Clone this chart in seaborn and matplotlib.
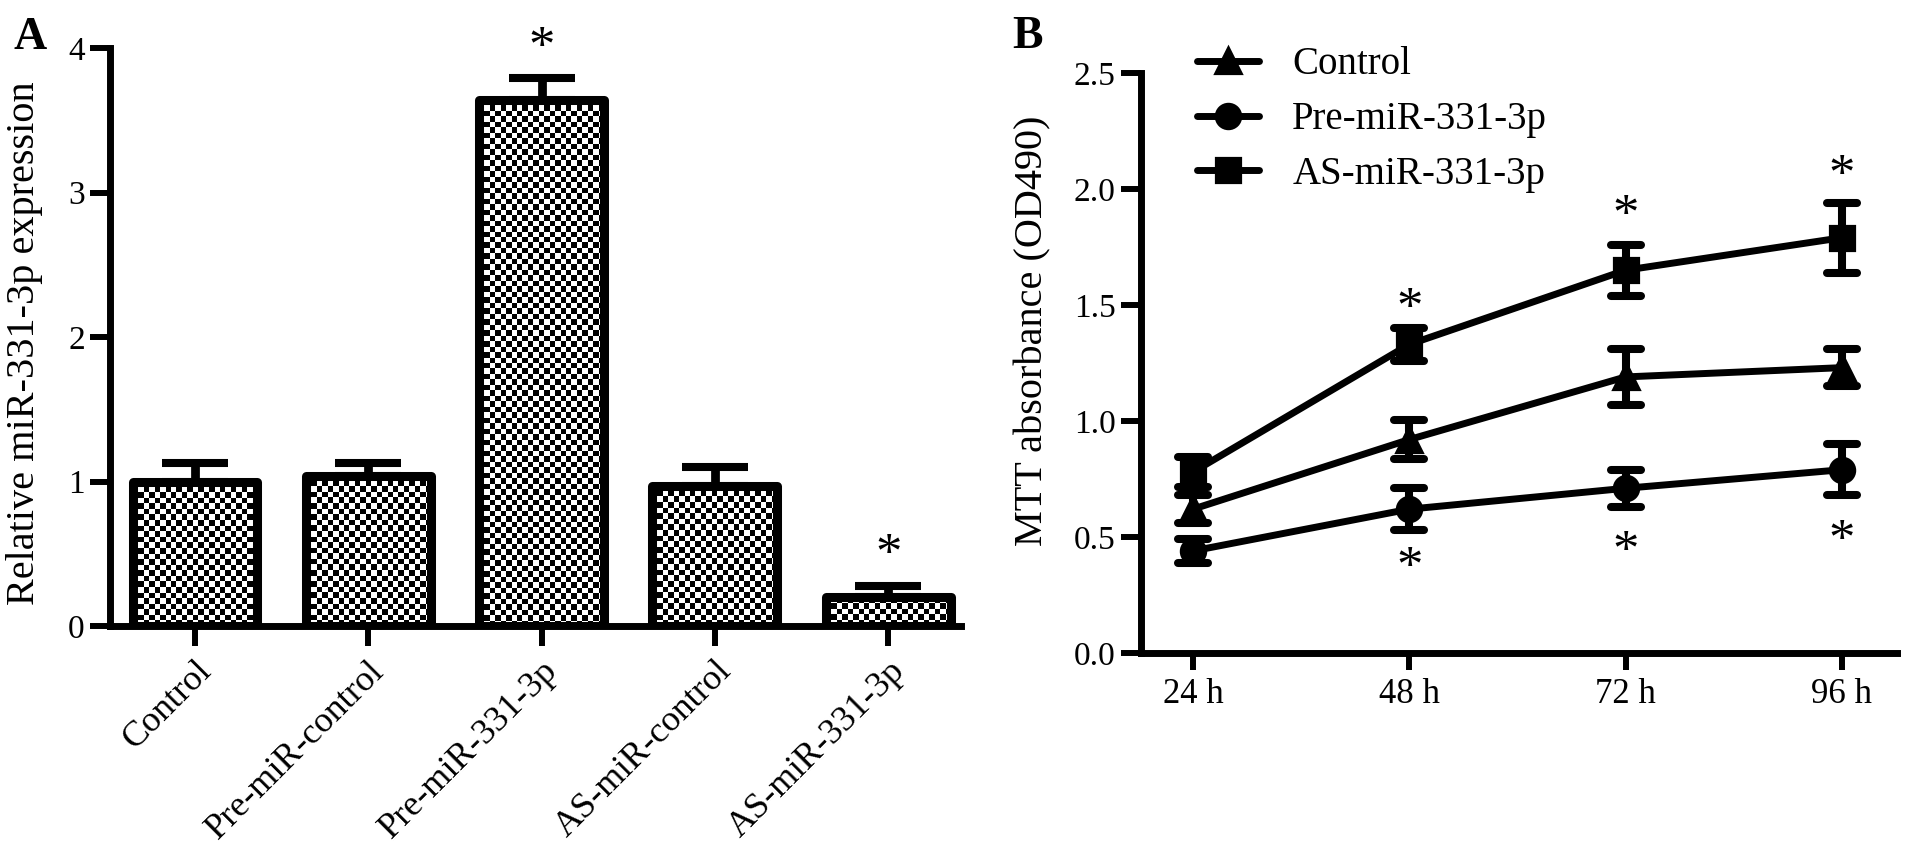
import numpy as np
import pandas as pd
import matplotlib
matplotlib.use("Agg")
import matplotlib.pyplot as plt
from matplotlib.markers import MarkerStyle
import seaborn as sns

# Panel A: relative miR-331-3p expression (mean, upper SE)
groups_a = ["Control", "Pre-miR-control", "Pre-miR-331-3p", "AS-miR-control", "AS-miR-331-3p"]
expr_mean = [1.00, 1.04, 3.64, 0.97, 0.20]
expr_err = [0.13, 0.09, 0.15, 0.13, 0.08]
star_a_idx = [2, 4]
star_a_y = [4.04, 0.53]

# Panel B: MTT absorbance over time
times = ["24 h", "48 h", "72 h", "96 h"]
groups_b = ["Control", "Pre-miR-331-3p", "AS-miR-331-3p"]
od_control = [0.62, 0.92, 1.19, 1.23]
od_pre = [0.44, 0.62, 0.71, 0.79]
od_as = [0.78, 1.33, 1.65, 1.79]
err_control = [0.06, 0.085, 0.12, 0.08]
err_pre = [0.05, 0.09, 0.08, 0.11]
err_as = [0.065, 0.07, 0.11, 0.15]
star_b_idx = [1, 2, 3, 1, 2, 3]
star_b_y = [1.51, 1.91, 2.08, 0.39, 0.46, 0.51]

sns.set_style("ticks")
plt.rcParams["font.family"] = ["Liberation Serif", "DejaVu Serif"]
plt.rcParams["axes.linewidth"] = 5
plt.rcParams["axes.edgecolor"] = "black"
plt.rcParams["xtick.color"] = "black"
plt.rcParams["ytick.color"] = "black"
plt.rcParams["text.color"] = "black"
plt.rcParams["axes.labelcolor"] = "black"
plt.rcParams["xtick.major.width"] = 4.3
plt.rcParams["ytick.major.width"] = 4.3
plt.rcParams["xtick.major.size"] = 14.5
plt.rcParams["ytick.major.size"] = 14.5

fig = plt.figure(figsize=(19.13, 8.61), dpi=100)
W, H = 1913, 861

# ---------------- Panel A ----------------
ax1 = fig.add_axes([110 / W, (H - 626) / H, 851 / W, 578 / H])
df_a = pd.DataFrame({"group": groups_a, "expr": expr_mean})
sns.barplot(data=df_a, x="group", y="expr", order=groups_a, color="white",
            width=0.72, errorbar=None, ax=ax1)
ax1.set_xlim(-0.49, 4.42)
ax1.set_ylim(0, 4)

ax1.errorbar(np.arange(len(groups_a)), expr_mean,
             yerr=[np.zeros(len(expr_err)), expr_err], fmt="none",
             ecolor="black", elinewidth=6.3, capsize=23.5, capthick=5.8,
             zorder=3)

# checkerboard fill inside each bar
sq = 5.5
for bar in ax1.patches:
    bar.set_facecolor("none")
    bar.set_edgecolor("black")
    bar.set_linewidth(6.5)
    bar.set_joinstyle("round")
    bar.set_zorder(2)
    x0, y0 = bar.get_x(), bar.get_y()
    w, h = bar.get_width(), bar.get_height()
    (px0, py0), (px1, py1) = ax1.transData.transform([(x0, y0), (x0 + w, y0 + h)])
    nx = max(1, int(round((px1 - px0) / sq)))
    ny = max(1, int(round((py1 - py0) / sq)))
    tile = np.indices((ny, nx)).sum(axis=0) % 2
    ax1.imshow(tile, extent=(x0, x0 + w, y0, y0 + h), cmap="gray",
               interpolation="nearest", aspect="auto", origin="lower",
               zorder=1, clip_path=bar)
ax1.set_xlim(-0.49, 4.42)
ax1.set_ylim(0, 4)

for i, ys in zip(star_a_idx, star_a_y):
    ax1.annotate("*", (i, ys), xytext=(0, -5), textcoords="offset points",
                 ha="center", va="center", fontsize=38,
                 annotation_clip=False)

ax1.set_yticks([0, 1, 2, 3, 4])
ax1.tick_params(axis="y", labelsize=24, pad=3.6)
ax1.tick_params(axis="x", labelsize=26, pad=6)
ax1.set_xticks(range(len(groups_a)))
ax1.set_xticklabels(groups_a, rotation=45, ha="right", va="top",
                    rotation_mode="anchor")
ax1.set_xlabel("")
ax1.set_ylabel("Relative miR-331-3p expression", fontsize=29)
ax1.yaxis.set_label_coords(-0.079, 0.49)
sns.despine(ax=ax1)

# ---------------- Panel B ----------------
ax2 = fig.add_axes([1141 / W, (H - 653) / H, 756 / W, 580 / H])
df_b = pd.DataFrame({
    "time": times * 3,
    "od": od_control + od_pre + od_as,
    "group": [groups_b[0]] * 4 + [groups_b[1]] * 4 + [groups_b[2]] * 4,
})
sns.pointplot(data=df_b, x="time", y="od", hue="group", hue_order=groups_b,
              order=times, palette=["black"] * 3, markers=["^", "o", "s"],
              linestyles="-", errorbar=None, ax=ax2,
              markersize=16, linewidth=5)

for means, errs in zip([od_control, od_pre, od_as], [err_control, err_pre, err_as]):
    eb = ax2.errorbar(np.arange(len(times)), means, yerr=errs, fmt="none",
                      ecolor="black", elinewidth=5.8, capsize=11, capthick=5.8,
                      zorder=4)
    for cap in eb.lines[1]:
        cap.set_marker(MarkerStyle("_", capstyle="round"))

for i, ys in zip(star_b_idx, star_b_y):
    ax2.annotate("*", (i, ys), xytext=(0, -5), textcoords="offset points",
                 ha="center", va="center", fontsize=38,
                 annotation_clip=False)

ax2.set_xlim(-0.24, 3.255)
ax2.set_ylim(0, 2.5)
ax2.set_yticks([0, 0.5, 1.0, 1.5, 2.0, 2.5])
ax2.set_yticklabels([f"{v:.1f}" for v in [0, 0.5, 1.0, 1.5, 2.0, 2.5]])
ax2.tick_params(axis="y", labelsize=24, pad=3.6)
ax2.tick_params(axis="x", labelsize=25, pad=6, length=12)
ax2.set_xlabel("")
ax2.set_ylabel("MTT absorbance (OD490)", fontsize=29)
ax2.yaxis.set_label_coords(-0.118, 0.555)
sns.despine(ax=ax2)

handles, labels = ax2.get_legend_handles_labels()
ax2.legend(handles, labels, loc="upper left", bbox_to_anchor=(0.074, 1.046),
           frameon=False, fontsize=28, handlelength=1.6, handletextpad=0.85,
           borderpad=0, borderaxespad=0, labelspacing=0.46)

# panel letters
fig.text(14 / W, 1 - 17 / H, "A", fontsize=33, fontweight="bold", ha="left", va="top")
fig.text(1012 / W, 1 - 16 / H, "B", fontsize=33, fontweight="bold", ha="left", va="top")

fig.savefig("out.png", dpi=100)
